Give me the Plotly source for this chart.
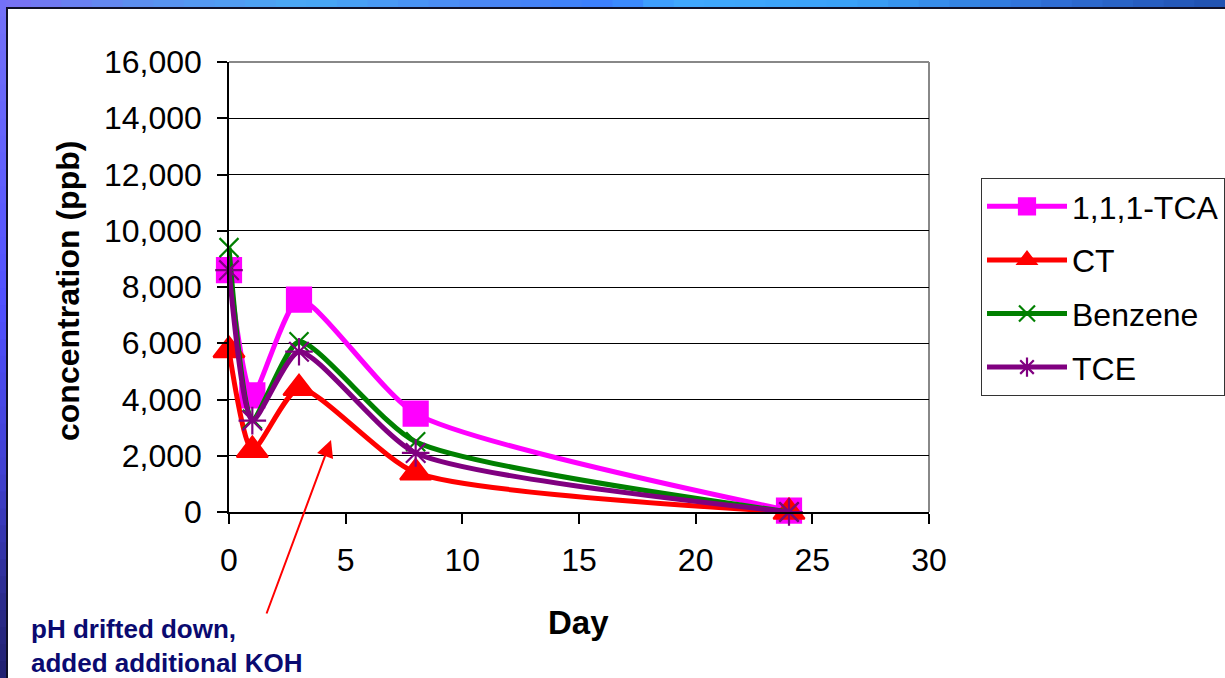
import plotly.graph_objects as go

days = [0, 1, 3, 8, 24]
tca = [8600, 4150, 7550, 3500, 50]
ct = [5750, 2200, 4400, 1400, 0]
benzene = [9400, 3300, 6050, 2500, 0]
tce = [8600, 3250, 5700, 2100, 0]

series_names = ["1,1,1-TCA", "CT", "Benzene", "TCE"]
series_values = [tca, ct, benzene, tce]
colors = ["#ff00ff", "#ff0000", "#008000", "#800080"]
symbols = ["square", "triangle-up", "x-thin-open", "asterisk-open"]
sizes = [24, 27, 19, 23]

y_ticks = [0, 2000, 4000, 6000, 8000, 10000, 12000, 14000, 16000]
x_ticks = [0, 5, 10, 15, 20, 25, 30]

W, H = 1225, 678
L, R, T, B = 229, 929, 62, 512


def px(x):
    return (x - L) / (R - L)


def py(y):
    return (B - y) / (B - T)


FONT = "Liberation Sans, Arial, sans-serif"

fig = go.Figure()
for i, (name, vals) in enumerate(zip(series_names, series_values)):
    fig.add_trace(go.Scatter(
        x=days, y=vals, name=name, mode="lines+markers",
        line=dict(color=colors[i], width=5, shape="spline", smoothing=0.6),
        marker=dict(symbol=symbols[i], size=sizes[i], color=colors[i],
                    line=dict(color=colors[i], width=2.2)),
        legendgroup=name, cliponaxis=False,
    ))


def hexmix(c1, c2, t):
    a = [int(c1[k:k + 2], 16) for k in (1, 3, 5)]
    b = [int(c2[k:k + 2], 16) for k in (1, 3, 5)]
    return "#" + "".join("%02x" % round(a[j] + (b[j] - a[j]) * t) for j in range(3))


def grad(stops, t):
    for (t0, c0), (t1, c1) in zip(stops, stops[1:]):
        if t0 <= t <= t1:
            return hexmix(c0, c1, (t - t0) / (t1 - t0) if t1 > t0 else 0)
    return stops[-1][1]


shapes = []
top_stops = [(0, "#7a6ef5"), (0.12, "#5a90f0"), (0.25, "#48a8f5"), (0.4, "#4a84f5"),
             (0.5, "#3a80ff"), (0.55, "#40a8ff"), (0.7, "#3aa0f8"), (0.85, "#3070d8"), (1.0, "#2050b0")]
left_stops = [(0, "#7472f8"), (0.45, "#5050ff"), (0.7, "#4040d0"), (0.9, "#2a2a88"), (1.0, "#202070")]
N = 40
for k in range(N):
    x0 = W * k / N
    x1 = W * (k + 1) / N + 1
    shapes.append(dict(type="rect", xref="paper", yref="paper",
                       x0=px(x0), x1=px(x1), y0=py(7), y1=py(0),
                       fillcolor=grad(top_stops, (k + 0.5) / N), line=dict(width=0), layer="above"))
for k in range(N):
    y0 = H * k / N
    y1 = H * (k + 1) / N + 1
    shapes.append(dict(type="rect", xref="paper", yref="paper",
                       x0=px(0), x1=px(6), y0=py(y1), y1=py(y0),
                       fillcolor=grad(left_stops, (k + 0.5) / N), line=dict(width=0), layer="above"))
shapes.append(dict(type="rect", xref="paper", yref="paper", x0=px(6), x1=px(W + 2), y0=py(9), y1=py(7),
                   fillcolor="#101028", line=dict(width=0), layer="above"))
shapes.append(dict(type="rect", xref="paper", yref="paper", x0=px(6), x1=px(8), y0=py(H + 2), y1=py(7),
                   fillcolor="#101028", line=dict(width=0), layer="above"))
shapes.append(dict(type="line", xref="paper", yref="paper", x0=0, x1=1, y0=1, y1=1,
                   line=dict(color="#888888", width=2), layer="below"))
shapes.append(dict(type="line", xref="paper", yref="paper", x0=1, x1=1, y0=0, y1=1,
                   line=dict(color="#888888", width=2), layer="below"))

annotations = [
    dict(text="<b>Day</b>", xref="paper", yref="paper", x=px(578), y=py(622),
         xanchor="center", yanchor="middle",
         showarrow=False, font=dict(size=33, color="black", family=FONT)),
    dict(text="<b>concentration (ppb)</b>", xref="paper", yref="paper", x=px(68), y=py(291),
         xanchor="center", yanchor="middle",
         textangle=-90, showarrow=False, font=dict(size=32, color="black", family=FONT)),
    dict(text="<b>pH drifted down,<br>added additional KOH</b>", xref="paper", yref="paper",
         x=px(29), y=py(612), xanchor="left", yanchor="top", align="left", showarrow=False,
         font=dict(size=26, color="#0a0a70", family=FONT)),
    dict(text="", xref="paper", yref="paper", x=px(331), y=py(440),
         ax=266 - 331, ay=615 - 440, showarrow=True, arrowhead=2, arrowsize=1.7,
         arrowwidth=2, arrowcolor="#ff0000"),
]

fig.update_layout(
    width=W, height=H,
    margin=dict(l=L, r=W - R, t=T, b=H - B, pad=0, autoexpand=False),
    paper_bgcolor="white", plot_bgcolor="white",
    font=dict(family=FONT, color="black"),
    showlegend=True,
    legend=dict(x=px(981), y=py(178), xanchor="left", yanchor="top",
                bordercolor="#333333", borderwidth=1, bgcolor="white",
                font=dict(size=32, family=FONT, color="black"),
                tracegroupgap=9, itemwidth=80, traceorder="grouped"),
    shapes=shapes,
    annotations=annotations,
)
fig.update_xaxes(range=[0, 30], tickvals=x_ticks, ticktext=[str(v) for v in x_ticks],
                 showgrid=False, zeroline=False, showline=True, linecolor="black", linewidth=1.5,
                 ticks="outside", ticklen=10, tickwidth=1.5, tickcolor="black",
                 tickfont=dict(size=32, family=FONT, color="black"), ticklabelstandoff=9,
                 fixedrange=True)
fig.update_yaxes(range=[0, 16000], tickvals=y_ticks, ticktext=[f"{v:,}" for v in y_ticks],
                 showgrid=True, gridcolor="black", gridwidth=1, zeroline=False,
                 showline=True, linecolor="black", linewidth=1.5,
                 ticks="outside", ticklen=10, tickwidth=1.5, tickcolor="black",
                 tickfont=dict(size=32, family=FONT, color="black"), ticklabelstandoff=9,
                 fixedrange=True)

fig.write_html("out.html")
